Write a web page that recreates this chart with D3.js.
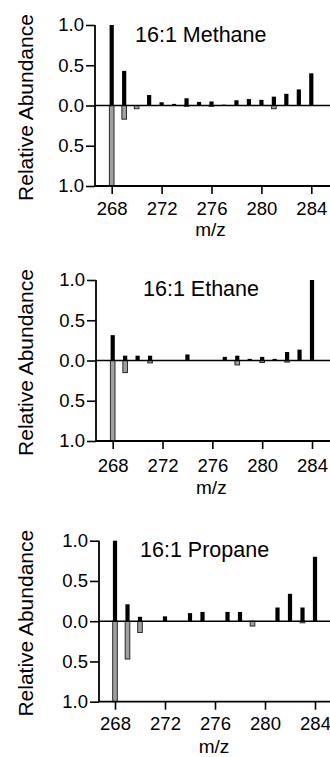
<!DOCTYPE html>
<html><head><meta charset="utf-8">
<script src="https://cdn.jsdelivr.net/npm/d3@7"></script>
<style>
html,body{margin:0;padding:0;background:#fff;}
svg{display:block;font-family:"Liberation Sans",Arial,Helvetica,sans-serif;}
</style></head>
<body>
<svg id="chart" width="330" height="757"></svg>
<script>
// ---- data ----
const mz = [268,269,270,271,272,273,274,275,276,277,278,279,280,281,282,283,284];
const xTickValues = [268,272,276,280,284];
const yTickValues = [1.0,0.5,0.0,-0.5,-1.0];
const yTickLabels = ["1.0","0.5","0.0","0.5","1.0"];
const panelTitles = ["16:1 Methane","16:1 Ethane","16:1 Propane"];
const xAxisTitle = "m/z";
const yAxisTitle = "Relative Abundance";

const methaneUp   = [1.00,0.43,0.00,0.13,0.04,0.02,0.09,0.045,0.05,0.01,0.065,0.08,0.07,0.11,0.145,0.20,0.40];
const methaneDown = [1.00,0.17,0.04,0.00,0.00,0.00,0.01,0.00,0.01,0.00,0.00,0.00,0.00,0.04,0.00,0.00,0.00];
const ethaneUp    = [0.315,0.06,0.06,0.06,0.00,0.00,0.075,0.00,0.00,0.045,0.06,0.02,0.045,0.02,0.105,0.135,1.00];
const ethaneDown  = [1.00,0.15,0.00,0.03,0.00,0.00,0.00,0.00,0.00,0.00,0.055,0.00,0.025,0.00,0.02,0.00,0.00];
const propaneUp   = [1.00,0.21,0.055,0.00,0.06,0.00,0.10,0.115,0.00,0.115,0.115,0.00,0.00,0.17,0.34,0.17,0.80];
const propaneDown = [1.00,0.47,0.14,0.00,0.00,0.00,0.00,0.00,0.00,0.00,0.00,0.06,0.00,0.00,0.00,0.02,0.00];

const upSeries = [methaneUp, ethaneUp, propaneUp];
const downSeries = [methaneDown, ethaneDown, propaneDown];

// ---- layout ----
const layout = [
  {left:95, x268:111.7, x284:311.3, top:25,    bottom:186,   tickDy:28.5, mzDy:49.5, titleX:135, titleY:41.7},
  {left:96, x268:112.7, x284:312,   top:280,   bottom:441,   tickDy:31,   mzDy:52.5, titleX:143, titleY:296},
  {left:99, x268:115,   x284:315,   top:540.7, bottom:701.7, tickDy:28.5, mzDy:51.5, titleX:140, titleY:556.7}
];

const svg = d3.select("#chart");
const W = 330;

layout.forEach((L, p) => {
  const x = d3.scaleLinear().domain([268,284]).range([L.x268, L.x284]);
  const y = d3.scaleLinear().domain([1,-1]).range([L.top, L.bottom]);
  const g = svg.append("g");
  const data = mz.map((m,i)=>({m, up:upSeries[p][i], down:downSeries[p][i]}));

  // negative (gray) bars
  g.selectAll("rect.down").data(data.filter(d=>d.down>0)).join("rect")
    .attr("x", d=>x(d.m)-2.3).attr("width",4.6)
    .attr("y", y(0)).attr("height", d=>y(-d.down)-y(0))
    .attr("fill","#a0a0a0").attr("stroke","#2a2a2a").attr("stroke-width",1);

  // positive (black) bars
  g.selectAll("rect.up").data(data.filter(d=>d.up>0)).join("rect")
    .attr("x", d=>x(d.m)-2.1).attr("width",4.2)
    .attr("y", d=>y(d.up)).attr("height", d=>y(0)-y(d.up))
    .attr("fill","#000");

  // zero line
  g.append("line").attr("x1",L.left).attr("x2",W).attr("y1",y(0)).attr("y2",y(0))
    .attr("stroke","#000").attr("stroke-width",1.6);

  // x axis
  const xAxis = d3.axisBottom(x).tickValues(xTickValues).tickSize(8).tickSizeOuter(0).tickFormat(d3.format("d"));
  const xg = g.append("g").attr("transform",`translate(0,${L.bottom})`).call(xAxis);
  xg.select(".domain").remove();
  xg.append("line").attr("x1",L.left).attr("x2",W).attr("y1",0).attr("y2",0)
    .attr("stroke","#000").attr("stroke-width",1.8);
  xg.selectAll(".tick line").attr("stroke","#000").attr("stroke-width",1.6);
  xg.selectAll(".tick text").attr("y",L.tickDy).attr("dy",null)
    .attr("font-size",18.5).attr("fill","#000");
  xg.attr("font-family",null);

  // y axis
  const yAxis = d3.axisLeft(y).tickValues(yTickValues).tickSize(9).tickSizeOuter(0)
    .tickFormat((d,i)=>yTickLabels[i]);
  const yg = g.append("g").attr("transform",`translate(${L.left},0)`).call(yAxis);
  yg.attr("font-family",null);
  yg.select(".domain").attr("stroke-width",1.8).attr("d",`M0,${L.top}V${L.bottom}`);
  yg.selectAll(".tick line").attr("stroke","#000").attr("stroke-width",1.6);
  yg.selectAll(".tick text").attr("x",-11).attr("font-size",18.5).attr("fill","#000");

  // panel title
  g.append("text").attr("x",L.titleX).attr("y",L.titleY).attr("font-size",21.5)
    .attr("fill","#000").text(panelTitles[p]);

  // x title
  g.append("text").attr("x",x(276)-1).attr("y",L.bottom+L.mzDy).attr("text-anchor","middle")
    .attr("font-size",19).attr("fill","#000").text(xAxisTitle);

  // y title
  g.append("text").attr("transform",`translate(33,${y(0)+2}) rotate(-90)`)
    .attr("text-anchor","middle").attr("font-size",21).attr("fill","#000").text(yAxisTitle);
});
</script>
</body></html>
